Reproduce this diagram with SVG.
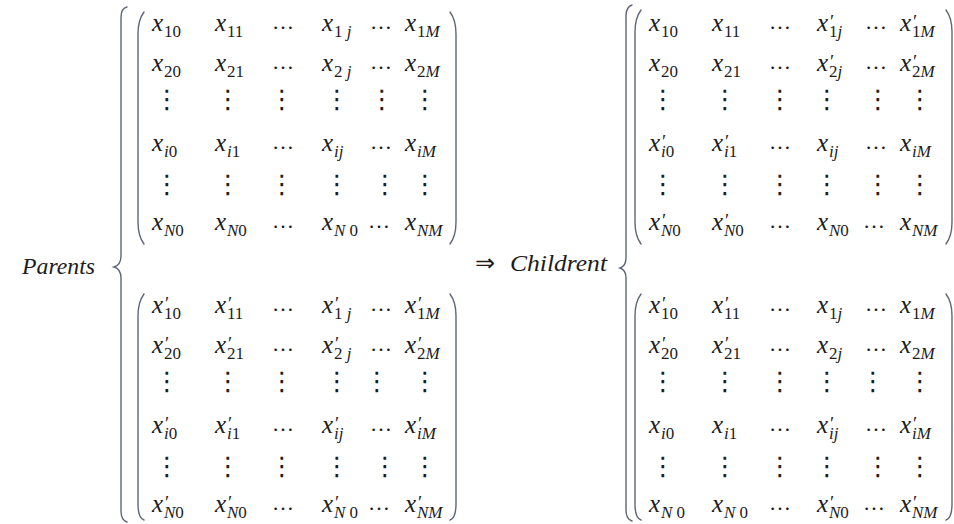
<svg xmlns="http://www.w3.org/2000/svg" width="954" height="524" viewBox="0 0 954 524">
<style>
text { font-family: "Liberation Serif", "DejaVu Serif", serif; fill: #1c1c1c; }
.x { font-size: 25px; font-style: italic; }
.s { font-size: 17px; font-style: normal; }
.si { font-style: italic; }
.p { font-size: 19px; font-style: normal; }
.e { font-size: 22px; font-style: normal; }
.vd { font-family: "DejaVu Sans", sans-serif; font-size: 26px; text-anchor: middle; }
.br { fill: none; stroke: #5e6678; stroke-width: 1.4; stroke-linecap: round; }
.lbl { font-size: 24px; font-style: italic; }
.arr { font-family: "DejaVu Sans", sans-serif; font-size: 24px; }
</style>
<rect width="954" height="524" fill="#ffffff"/>

<g id="label-parents"><text class="lbl" x="22" y="274" textLength="73" lengthAdjust="spacingAndGlyphs">Parents</text></g>
<g id="brace-left"><path class="br" d="M127,7 Q121,8 121,18 L121,256 Q121,265 114,267 Q121,269 121,278 L121,511 Q121,520 127,522"/></g>
<g id="label-children"><text class="arr" x="475" y="271">⇒</text><text class="lbl" x="510" y="271" textLength="97" lengthAdjust="spacingAndGlyphs">Childrent</text></g>
<g id="brace-right"><path class="br" d="M632,5 Q626,7 626,16 L626,258 Q626,266 620,268 Q626,270 626,278 L626,510 Q626,519 632,521"/></g>

<!-- Parent matrix 1 -->
<g id="parent1" transform="translate(152,0)">
<path class="br" d="M-8,12 Q-14,20 -14,34 L-14,222 Q-14,236 -8,244"/>
<path class="br" d="M298,12 Q304,20 304,34 L304,222 Q304,236 298,244"/>
<text class="x" x="0" y="31">x<tspan class="s" x="12" y="37">10</tspan></text>
<text class="x" x="63" y="31">x<tspan class="s" x="75" y="37">11</tspan></text>
<text class="e" x="120" y="29">…</text>
<text class="x" x="170" y="31">x<tspan class="s" x="182" y="37">1 <tspan class="si">j</tspan></tspan></text>
<text class="e" x="218" y="29">…</text>
<text class="x" x="253" y="31">x<tspan class="s" x="265" y="37">1<tspan class="si">M</tspan></tspan></text>

<text class="x" x="0" y="71">x<tspan class="s" x="12" y="77">20</tspan></text>
<text class="x" x="63" y="71">x<tspan class="s" x="75" y="77">21</tspan></text>
<text class="e" x="120" y="69">…</text>
<text class="x" x="170" y="71">x<tspan class="s" x="182" y="77">2 <tspan class="si">j</tspan></tspan></text>
<text class="e" x="218" y="69">…</text>
<text class="x" x="253" y="71">x<tspan class="s" x="265" y="77">2<tspan class="si">M</tspan></tspan></text>

<text class="vd" x="15" y="108">⋮</text><text class="vd" x="76" y="108">⋮</text><text class="vd" x="130" y="108">⋮</text><text class="vd" x="185" y="108">⋮</text><text class="vd" x="230" y="108">⋮</text><text class="vd" x="273" y="108">⋮</text>

<text class="x" x="0" y="151">x<tspan class="s" x="12" y="157"><tspan class="si">i</tspan>0</tspan></text>
<text class="x" x="63" y="151">x<tspan class="s" x="75" y="157"><tspan class="si">i</tspan>1</tspan></text>
<text class="e" x="120" y="149">…</text>
<text class="x" x="170" y="151">x<tspan class="s si" x="182" y="157">ij</tspan></text>
<text class="e" x="218" y="149">…</text>
<text class="x" x="253" y="151">x<tspan class="s si" x="265" y="157">iM</tspan></text>

<text class="vd" x="15" y="193">⋮</text><text class="vd" x="76" y="193">⋮</text><text class="vd" x="130" y="193">⋮</text><text class="vd" x="185" y="193">⋮</text><text class="vd" x="233" y="193">⋮</text><text class="vd" x="273" y="193">⋮</text>

<text class="x" x="0" y="230">x<tspan class="s" x="12" y="236"><tspan class="si">N</tspan>0</tspan></text>
<text class="x" x="63" y="230">x<tspan class="s" x="75" y="236"><tspan class="si">N</tspan>0</tspan></text>
<text class="e" x="120" y="228">…</text>
<text class="x" x="170" y="230">x<tspan class="s" x="182" y="236"><tspan class="si">N</tspan> 0</tspan></text>
<text class="e" x="216" y="228">…</text>
<text class="x" x="253" y="230">x<tspan class="s si" x="265" y="236">NM</tspan></text>
</g>

<!-- Parent matrix 2 -->
<g id="parent2" transform="translate(152,282)">
<path class="br" d="M-8,12 Q-14,20 -14,34 L-14,222 Q-14,236 -8,238"/>
<path class="br" d="M298,12 Q304,20 304,34 L304,222 Q304,236 298,238"/>
<text class="x" x="0" y="31">x<tspan class="p" x="13" y="28">′</tspan><tspan class="s" x="12" y="37">10</tspan></text>
<text class="x" x="63" y="31">x<tspan class="p" x="76" y="28">′</tspan><tspan class="s" x="75" y="37">11</tspan></text>
<text class="e" x="120" y="29">…</text>
<text class="x" x="170" y="31">x<tspan class="p" x="183" y="28">′</tspan><tspan class="s" x="182" y="37">1 <tspan class="si">j</tspan></tspan></text>
<text class="e" x="218" y="29">…</text>
<text class="x" x="253" y="31">x<tspan class="p" x="266" y="28">′</tspan><tspan class="s" x="265" y="37">1<tspan class="si">M</tspan></tspan></text>

<text class="x" x="0" y="71">x<tspan class="p" x="13" y="68">′</tspan><tspan class="s" x="12" y="77">20</tspan></text>
<text class="x" x="63" y="71">x<tspan class="p" x="76" y="68">′</tspan><tspan class="s" x="75" y="77">21</tspan></text>
<text class="e" x="120" y="69">…</text>
<text class="x" x="170" y="71">x<tspan class="p" x="183" y="68">′</tspan><tspan class="s" x="182" y="77">2 <tspan class="si">j</tspan></tspan></text>
<text class="e" x="218" y="69">…</text>
<text class="x" x="253" y="71">x<tspan class="p" x="266" y="68">′</tspan><tspan class="s" x="265" y="77">2<tspan class="si">M</tspan></tspan></text>

<text class="vd" x="15" y="108">⋮</text><text class="vd" x="76" y="108">⋮</text><text class="vd" x="130" y="108">⋮</text><text class="vd" x="185" y="108">⋮</text><text class="vd" x="225" y="108">⋮</text><text class="vd" x="273" y="108">⋮</text>

<text class="x" x="0" y="151">x<tspan class="p" x="13" y="148">′</tspan><tspan class="s" x="12" y="157"><tspan class="si">i</tspan>0</tspan></text>
<text class="x" x="63" y="151">x<tspan class="p" x="76" y="148">′</tspan><tspan class="s" x="75" y="157"><tspan class="si">i</tspan>1</tspan></text>
<text class="e" x="120" y="149">…</text>
<text class="x" x="170" y="151">x<tspan class="p" x="183" y="148">′</tspan><tspan class="s si" x="182" y="157">ij</tspan></text>
<text class="e" x="218" y="149">…</text>
<text class="x" x="253" y="151">x<tspan class="p" x="266" y="148">′</tspan><tspan class="s si" x="265" y="157">iM</tspan></text>

<text class="vd" x="15" y="193">⋮</text><text class="vd" x="76" y="193">⋮</text><text class="vd" x="130" y="193">⋮</text><text class="vd" x="185" y="193">⋮</text><text class="vd" x="233" y="193">⋮</text><text class="vd" x="273" y="193">⋮</text>

<text class="x" x="0" y="230">x<tspan class="p" x="13" y="227">′</tspan><tspan class="s" x="12" y="236"><tspan class="si">N</tspan>0</tspan></text>
<text class="x" x="63" y="230">x<tspan class="p" x="76" y="227">′</tspan><tspan class="s" x="75" y="236"><tspan class="si">N</tspan>0</tspan></text>
<text class="e" x="120" y="228">…</text>
<text class="x" x="170" y="230">x<tspan class="p" x="183" y="227">′</tspan><tspan class="s" x="182" y="236"><tspan class="si">N</tspan> 0</tspan></text>
<text class="e" x="216" y="228">…</text>
<text class="x" x="253" y="230">x<tspan class="p" x="266" y="227">′</tspan><tspan class="s si" x="265" y="236">NM</tspan></text>
</g>

<!-- Child matrix 1 -->
<g id="child1" transform="translate(649,0)">
<path class="br" d="M-8,10 Q-14,18 -14,32 L-14,222 Q-14,236 -8,244"/>
<path class="br" d="M297,10 Q303,18 303,32 L303,222 Q303,236 297,244"/>
<text class="x" x="0" y="31">x<tspan class="s" x="12" y="37">10</tspan></text>
<text class="x" x="63" y="31">x<tspan class="s" x="75" y="37">11</tspan></text>
<text class="e" x="120" y="29">…</text>
<text class="x" x="168" y="31">x<tspan class="p" x="181" y="28">′</tspan><tspan class="s" x="180" y="37">1<tspan class="si">j</tspan></tspan></text>
<text class="e" x="216" y="29">…</text>
<text class="x" x="251" y="31">x<tspan class="p" x="264" y="28">′</tspan><tspan class="s" x="263" y="37">1<tspan class="si">M</tspan></tspan></text>

<text class="x" x="0" y="71">x<tspan class="s" x="12" y="77">20</tspan></text>
<text class="x" x="63" y="71">x<tspan class="s" x="75" y="77">21</tspan></text>
<text class="e" x="120" y="69">…</text>
<text class="x" x="168" y="71">x<tspan class="p" x="181" y="68">′</tspan><tspan class="s" x="180" y="77">2<tspan class="si">j</tspan></tspan></text>
<text class="e" x="216" y="69">…</text>
<text class="x" x="251" y="71">x<tspan class="p" x="264" y="68">′</tspan><tspan class="s" x="263" y="77">2<tspan class="si">M</tspan></tspan></text>

<text class="vd" x="14" y="108">⋮</text><text class="vd" x="76" y="108">⋮</text><text class="vd" x="131" y="108">⋮</text><text class="vd" x="178" y="108">⋮</text><text class="vd" x="229" y="108">⋮</text><text class="vd" x="271" y="108">⋮</text>

<text class="x" x="0" y="151">x<tspan class="p" x="13" y="148">′</tspan><tspan class="s" x="12" y="157"><tspan class="si">i</tspan>0</tspan></text>
<text class="x" x="63" y="151">x<tspan class="p" x="76" y="148">′</tspan><tspan class="s" x="75" y="157"><tspan class="si">i</tspan>1</tspan></text>
<text class="e" x="120" y="149">…</text>
<text class="x" x="168" y="151">x<tspan class="s si" x="180" y="157">ij</tspan></text>
<text class="e" x="216" y="149">…</text>
<text class="x" x="251" y="151">x<tspan class="s si" x="263" y="157">iM</tspan></text>

<text class="vd" x="14" y="193">⋮</text><text class="vd" x="76" y="193">⋮</text><text class="vd" x="131" y="193">⋮</text><text class="vd" x="178" y="193">⋮</text><text class="vd" x="229" y="193">⋮</text><text class="vd" x="271" y="193">⋮</text>

<text class="x" x="0" y="230">x<tspan class="p" x="13" y="227">′</tspan><tspan class="s" x="12" y="236"><tspan class="si">N</tspan>0</tspan></text>
<text class="x" x="63" y="230">x<tspan class="p" x="76" y="227">′</tspan><tspan class="s" x="75" y="236"><tspan class="si">N</tspan>0</tspan></text>
<text class="e" x="120" y="228">…</text>
<text class="x" x="168" y="230">x<tspan class="s" x="180" y="236"><tspan class="si">N</tspan>0</tspan></text>
<text class="e" x="214" y="228">…</text>
<text class="x" x="251" y="230">x<tspan class="s si" x="263" y="236">NM</tspan></text>
</g>

<!-- Child matrix 2 -->
<g id="child2" transform="translate(649,282)">
<path class="br" d="M-8,12 Q-14,20 -14,34 L-14,222 Q-14,236 -8,238"/>
<path class="br" d="M297,12 Q303,20 303,34 L303,222 Q303,236 297,238"/>
<text class="x" x="0" y="31">x<tspan class="p" x="13" y="28">′</tspan><tspan class="s" x="12" y="37">10</tspan></text>
<text class="x" x="63" y="31">x<tspan class="p" x="76" y="28">′</tspan><tspan class="s" x="75" y="37">11</tspan></text>
<text class="e" x="120" y="29">…</text>
<text class="x" x="168" y="31">x<tspan class="s" x="180" y="37">1<tspan class="si">j</tspan></tspan></text>
<text class="e" x="216" y="29">…</text>
<text class="x" x="251" y="31">x<tspan class="s" x="263" y="37">1<tspan class="si">M</tspan></tspan></text>

<text class="x" x="0" y="71">x<tspan class="p" x="13" y="68">′</tspan><tspan class="s" x="12" y="77">20</tspan></text>
<text class="x" x="63" y="71">x<tspan class="p" x="76" y="68">′</tspan><tspan class="s" x="75" y="77">21</tspan></text>
<text class="e" x="120" y="69">…</text>
<text class="x" x="168" y="71">x<tspan class="s" x="180" y="77">2<tspan class="si">j</tspan></tspan></text>
<text class="e" x="216" y="69">…</text>
<text class="x" x="251" y="71">x<tspan class="s" x="263" y="77">2<tspan class="si">M</tspan></tspan></text>

<text class="vd" x="14" y="108">⋮</text><text class="vd" x="76" y="108">⋮</text><text class="vd" x="131" y="108">⋮</text><text class="vd" x="178" y="108">⋮</text><text class="vd" x="224" y="108">⋮</text><text class="vd" x="271" y="108">⋮</text>

<text class="x" x="0" y="151">x<tspan class="s" x="12" y="157"><tspan class="si">i</tspan>0</tspan></text>
<text class="x" x="63" y="151">x<tspan class="s" x="75" y="157"><tspan class="si">i</tspan>1</tspan></text>
<text class="e" x="120" y="149">…</text>
<text class="x" x="168" y="151">x<tspan class="p" x="181" y="148">′</tspan><tspan class="s si" x="180" y="157">ij</tspan></text>
<text class="e" x="216" y="149">…</text>
<text class="x" x="251" y="151">x<tspan class="p" x="264" y="148">′</tspan><tspan class="s si" x="263" y="157">iM</tspan></text>

<text class="vd" x="14" y="193">⋮</text><text class="vd" x="76" y="193">⋮</text><text class="vd" x="131" y="193">⋮</text><text class="vd" x="178" y="193">⋮</text><text class="vd" x="229" y="193">⋮</text><text class="vd" x="271" y="193">⋮</text>

<text class="x" x="0" y="230">x<tspan class="s" x="12" y="236"><tspan class="si">N</tspan> 0</tspan></text>
<text class="x" x="63" y="230">x<tspan class="s" x="75" y="236"><tspan class="si">N</tspan> 0</tspan></text>
<text class="e" x="120" y="228">…</text>
<text class="x" x="168" y="230">x<tspan class="p" x="181" y="227">′</tspan><tspan class="s" x="180" y="236"><tspan class="si">N</tspan>0</tspan></text>
<text class="e" x="214" y="228">…</text>
<text class="x" x="251" y="230">x<tspan class="p" x="264" y="227">′</tspan><tspan class="s si" x="263" y="236">NM</tspan></text>
</g>
</svg>
